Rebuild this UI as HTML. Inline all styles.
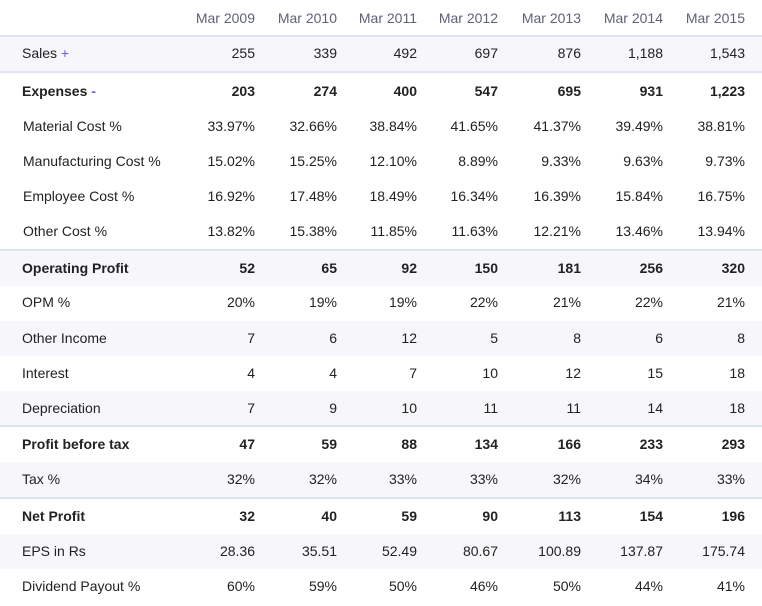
<!DOCTYPE html><html><head><style>
body{margin:0;width:762px;height:606px;background:#fff;font-family:"Liberation Sans",sans-serif;font-size:14px;color:#222;position:relative;overflow:hidden}
.r{position:absolute;left:0;width:762px;height:35px}
.s{background:#f6f6fb}
.r span{position:absolute;top:0;line-height:35px;white-space:nowrap}
.l{left:22px}
.i .l{left:23px}
.b{font-weight:bold}
.line{position:absolute;left:0;width:762px;height:2px;background:#dfe5f0}
.h{color:#5f6178}
</style></head><body>
<div class="r h" style="top:0;height:36px" id="hd"></div>
<div id="rows"></div>
<script>
var xs=[255,337,417,498,581,663,745];
var hd=document.getElementById('hd');
["Mar 2009","Mar 2010","Mar 2011","Mar 2012","Mar 2013","Mar 2014","Mar 2015"].forEach(function(t,i){hd.innerHTML+='<span style="right:'+(762-xs[i])+'px;line-height:36px">'+t+'</span>';});
var rows=[
["Sales <span style=\"position:static;color:#6c5ce7\">+</span>",53,0,["255","339","492","697","876","1,188","1,543"],1],
["Expenses <span style=\"position:static;color:#6c5ce7\">-</span>",91,1,["203","274","400","547","695","931","1,223"],0],
["Material Cost %",126,0,["33.97%","32.66%","38.84%","41.65%","41.37%","39.49%","38.81%"],0,1],
["Manufacturing Cost %",161,0,["15.02%","15.25%","12.10%","8.89%","9.33%","9.63%","9.73%"],0,1],
["Employee Cost %",196,0,["16.92%","17.48%","18.49%","16.34%","16.39%","15.84%","16.75%"],0,1],
["Other Cost %",231,0,["13.82%","15.38%","11.85%","11.63%","12.21%","13.46%","13.94%"],0,1],
["Operating Profit",268,1,["52","65","92","150","181","256","320"],1],
["OPM %",302,0,["20%","19%","19%","22%","21%","22%","21%"],0],
["Other Income",338,0,["7","6","12","5","8","6","8"],1],
["Interest",373,0,["4","4","7","10","12","15","18"],0],
["Depreciation",408,0,["7","9","10","11","11","14","18"],1],
["Profit before tax",444,1,["47","59","88","134","166","233","293"],0],
["Tax %",479,0,["32%","32%","33%","33%","32%","34%","33%"],1],
["Net Profit",516,1,["32","40","59","90","113","154","196"],0],
["EPS in Rs",551,0,["28.36","35.51","52.49","80.67","100.89","137.87","175.74"],1],
["Dividend Payout %",586,0,["60%","59%","50%","46%","50%","44%","41%"],0]];
var h='';
rows.forEach(function(r,k){
 var top=r[1]-17;
 h+='<div class="r'+(r[4]?' s':'')+(r[2]?' b':'')+(r[5]?' i':'')+'" style="top:'+top+'px"><span class="l">'+r[0]+'</span>';
 r[3].forEach(function(v,i){h+='<span style="right:'+(762-xs[i])+'px">'+v+'</span>';});
 h+='</div>';
});
[35,71,249,425,497].forEach(function(y){h+='<div class="line" style="top:'+y+'px"></div>';});
document.getElementById('rows').innerHTML=h;
</script>
</body></html>
